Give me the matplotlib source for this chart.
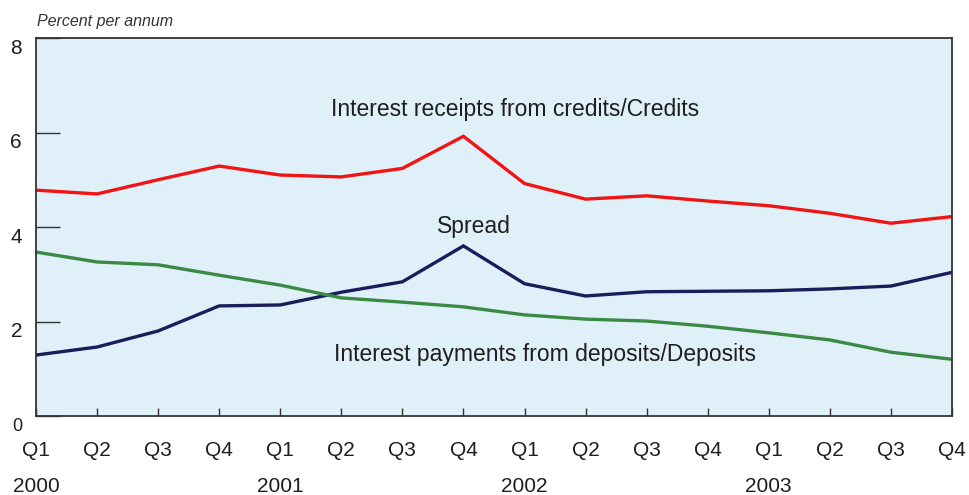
import matplotlib
matplotlib.use("Agg")
import matplotlib.pyplot as plt
import matplotlib.transforms as mtransforms
import numpy as np

# quarterly data, 2000 Q1 .. 2003 Q4
quarters = ["Q1", "Q2", "Q3", "Q4"] * 4
years = ["2000", "2001", "2002", "2003"]
credits = [4.78, 4.70, 5.00, 5.29, 5.10, 5.06, 5.24, 5.92, 4.92, 4.59, 4.66, 4.55, 4.45, 4.29, 4.08, 4.22]
spread = [1.29, 1.46, 1.80, 2.33, 2.35, 2.62, 2.84, 3.60, 2.80, 2.54, 2.63, 2.64, 2.65, 2.69, 2.75, 3.04]
deposits = [3.47, 3.26, 3.20, 2.98, 2.77, 2.50, 2.41, 2.31, 2.14, 2.05, 2.01, 1.90, 1.76, 1.61, 1.35, 1.20]
yticks = [0, 2, 4, 6, 8]

plt.rcParams['font.family'] = ['Liberation Sans', 'DejaVu Sans']
txt = "#1e1e1e"

fig = plt.figure(figsize=(9.7, 4.95), dpi=100)
ax = fig.add_axes([0.0371, 0.1596, 0.9443, 0.7636])
ax.set_facecolor("#e0f0f8")

x = np.arange(len(quarters))
ax.plot(x, credits, color="#f01414", lw=2.4, solid_joinstyle="miter")
ax.plot(x, spread, color="#1c1c5c", lw=2.4, solid_joinstyle="miter")
ax.plot(x, deposits, color="#3a8a45", lw=2.4, solid_joinstyle="miter")

ax.set_xlim(0, len(quarters) - 1)
ax.set_ylim(0, 8)

for s in ax.spines.values():
    s.set_color("#333333")
    s.set_linewidth(1.3)

ax.set_xticks(x)
ax.set_xticklabels(quarters, fontsize=15, color=txt)
ax.tick_params(axis="x", direction="in", length=6, width=1, color="#333333", pad=18)
ax.set_yticks(yticks)
ax.set_yticklabels([str(v) for v in yticks], fontsize=15, color=txt)
ax.tick_params(axis="y", direction="in", length=17, width=1, color="#333333", pad=10)
ax.get_yticklabels()[0].set_fontsize(13)

# y labels sit a little below their ticks
off = mtransforms.ScaledTranslation(0, -6 / 72, fig.dpi_scale_trans)
for lab in ax.get_yticklabels():
    lab.set_transform(lab.get_transform() + off)

# year labels under the Q1 ticks
tr = mtransforms.blended_transform_factory(ax.transData, ax.transAxes)
for i, yr in enumerate(years):
    ax.text(i * 4, -0.186, yr, transform=tr, ha="center", va="center",
            fontsize=15, color=txt)

fig.text(0.038, 0.956, "Percent per annum", fontsize=11.5, style="italic",
         color="#333333", ha="left", va="center")

ax.text(7.84, 6.48, "Interest receipts from credits/Credits", fontsize=16.5,
        color=txt, ha="center", va="center")
ax.text(7.17, 4.02, "Spread", fontsize=16.5, color=txt, ha="center", va="center")
ax.text(8.33, 1.31, "Interest payments from deposits/Deposits", fontsize=16.5,
        color=txt, ha="center", va="center")

fig.savefig("out.png", dpi=100, facecolor="white")
